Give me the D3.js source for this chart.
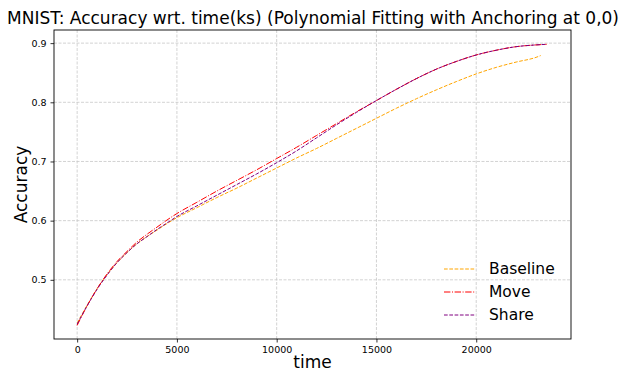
<!DOCTYPE html>
<meta charset="utf-8">
<style>
  body { margin: 0; background: #fff; }
  text { font-family: "DejaVu Sans", sans-serif; }
</style>
<svg width="627" height="372"></svg>
<script src="https://d3js.org/d3.v7.min.js"></script>
<script>

// time in seconds (x) and accuracy (y)
var timeShared = [0, 500, 1000, 1500, 2000, 2500, 3000, 3500, 4000, 4500, 5000, 6000, 7000, 8000, 9000, 10000, 11000, 12000,
                  13000, 14000, 15000, 16000, 17000, 18000, 19000, 20000, 21000, 22000, 23000, 23530];
var timeBaseline = [0, 500, 1000, 1500, 2000, 2500, 3000, 3500, 4000, 4500, 5000, 6000, 7000, 8000, 9000, 10000, 11000, 12000,
                    13000, 14000, 15000, 16000, 17000, 18000, 19000, 20000, 21000, 22000, 23000, 23230];

var baseline = [0.427, 0.457, 0.485, 0.509, 0.529, 0.546, 0.561, 0.573, 0.584, 0.595, 0.605, 0.622, 0.639, 0.655, 0.672, 0.689, 0.706, 0.722,
                0.739, 0.756, 0.773, 0.790, 0.806, 0.821, 0.835, 0.848, 0.859, 0.868, 0.876, 0.879];
var move     = [0.423, 0.456, 0.485, 0.510, 0.531, 0.548, 0.564, 0.577, 0.589, 0.601, 0.612, 0.631, 0.650, 0.668, 0.686, 0.705, 0.724, 0.744,
                0.764, 0.784, 0.803, 0.822, 0.840, 0.856, 0.869, 0.880, 0.888, 0.894, 0.897, 0.898];
var share    = [0.425, 0.456, 0.484, 0.508, 0.529, 0.546, 0.561, 0.573, 0.585, 0.596, 0.607, 0.625, 0.643, 0.661, 0.679, 0.698, 0.718, 0.740,
                0.762, 0.783, 0.803, 0.822, 0.840, 0.856, 0.869, 0.880, 0.888, 0.894, 0.897, 0.898];

var xTicks = [0, 5000, 10000, 15000, 20000];
var yTicks = [0.5, 0.6, 0.7, 0.8, 0.9];
var seriesNames = ["Baseline", "Move", "Share"];

var svg = d3.select("svg"),
    margin = {top: 30, right: 56, bottom: 33, left: 54},
    width = +svg.attr("width") - margin.left - margin.right,
    height = +svg.attr("height") - margin.top - margin.bottom,
    g = svg.append("g").attr("transform", "translate(" + margin.left + "," + margin.top + ")");

var x = d3.scaleLinear().domain([-1160, 24750]).range([0, width]);
var y = d3.scaleLinear().domain([0.4, 0.9222]).range([height, 0]);

// grid
g.append("g").selectAll("line").data(xTicks).enter().append("line")
    .attr("x1", function(d) { return x(d); }).attr("x2", function(d) { return x(d); })
    .attr("y1", 0).attr("y2", height)
    .attr("stroke", "#c8c8c8").attr("stroke-width", 0.8).attr("stroke-dasharray", "3,1.5");
g.append("g").selectAll("line").data(yTicks).enter().append("line")
    .attr("y1", function(d) { return y(d); }).attr("y2", function(d) { return y(d); })
    .attr("x1", 0).attr("x2", width)
    .attr("stroke", "#c8c8c8").attr("stroke-width", 0.8).attr("stroke-dasharray", "3,1.5");

// axes
var xAxis = g.append("g")
    .attr("transform", "translate(0," + height + ")")
    .call(d3.axisBottom(x).tickValues(xTicks).tickSize(3.5).tickPadding(4).tickFormat(d3.format("d")));
var yAxis = g.append("g")
    .call(d3.axisLeft(y).tickValues(yTicks).tickSize(3.5).tickPadding(4).tickFormat(d3.format(".1f")));
[xAxis, yAxis].forEach(function(a) {
  a.select(".domain").remove();
  a.selectAll("text").attr("font-size", 9.5).attr("fill", "#000").attr("font-family", "DejaVu Sans");
  a.selectAll("line").attr("stroke", "#000").attr("stroke-width", 0.8);
});

g.append("rect")
    .attr("width", width).attr("height", height)
    .attr("fill", "none").attr("stroke", "#000").attr("stroke-width", 0.9);

var line = d3.line()
    .x(function(d) { return x(d[0]); })
    .y(function(d) { return y(d[1]); })
    .curve(d3.curveMonotoneX);

var styles = {
  "Baseline": {color: "#FFA500", dash: "3.7,1.6", t: timeBaseline, v: baseline},
  "Move":     {color: "#FF0000", dash: "6.4,1.6,1,1.6", t: timeShared, v: move},
  "Share":    {color: "#800080", dash: "3.7,1.6", t: timeShared, v: share}
};

seriesNames.forEach(function(name) {
  var s = styles[name];
  g.append("path")
      .datum(d3.zip(s.t, s.v))
      .attr("fill", "none")
      .attr("stroke", s.color)
      .attr("stroke-width", 1)
      .attr("stroke-dasharray", s.dash)
      .attr("d", line);
});

// legend
var legend = svg.append("g").attr("transform", "translate(444,269)");
seriesNames.forEach(function(name, i) {
  var s = styles[name];
  legend.append("line")
      .attr("x1", 0).attr("x2", 31)
      .attr("y1", i * 23).attr("y2", i * 23)
      .attr("stroke", s.color).attr("stroke-width", 1).attr("stroke-dasharray", s.dash);
  legend.append("text")
      .attr("x", 45).attr("y", i * 23).attr("dy", "0.35em")
      .attr("font-size", 15.5).attr("fill", "#000")
      .text(name);
});

// titles
svg.append("text")
    .attr("x", 313).attr("y", 24)
    .attr("text-anchor", "middle").attr("font-size", 17)
    .text("MNIST: Accuracy wrt. time(ks) (Polynomial Fitting with Anchoring at 0,0)");
svg.append("text")
    .attr("x", margin.left + width / 2).attr("y", 368)
    .attr("text-anchor", "middle").attr("font-size", 17)
    .text("time");
svg.append("text")
    .attr("transform", "translate(27," + (margin.top + height / 2) + ") rotate(-90)")
    .attr("text-anchor", "middle").attr("font-size", 17)
    .text("Accuracy");

</script>
